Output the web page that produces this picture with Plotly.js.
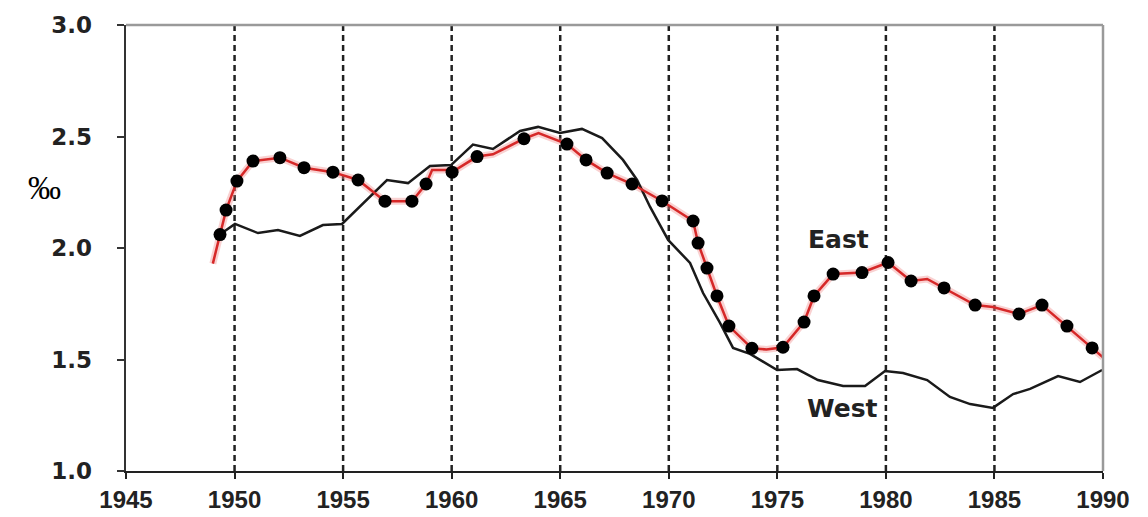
<!DOCTYPE html>
<html>
<head>
<meta charset="utf-8">
<script src="https://cdn.plot.ly/plotly-3.0.1.min.js"></script>
<style>
  html, body { margin: 0; padding: 0; background: #fff; }
  #chart { width: 1148px; height: 517px; }
</style>
</head>
<body>
<div id="chart"></div>
<script>
// ---- data ----
var xTickValues = [1945, 1950, 1955, 1960, 1965, 1970, 1975, 1980, 1985, 1990];
var xTickLabels = ["1945", "1950", "1955", "1960", "1965", "1970", "1975", "1980", "1985", "1990"];
var yTickValues = [1.0, 1.5, 2.0, 2.5, 3.0];
var yTickLabels = ["1.0", "1.5", "2.0", "2.5", "3.0"];
var markerYears = [1950, 1955, 1960, 1965, 1970, 1975, 1980, 1985];

// East: line vertices
var eastYears = [1949.0, 1949.33, 1949.61, 1950.11, 1950.85, 1952.09, 1953.2, 1954.53, 1955.69, 1956.93,
  1958.17, 1958.82, 1959.1, 1959.8, 1960.02, 1961.17, 1961.9, 1963.33, 1964.0, 1965.31, 1966.19,
  1967.16, 1968.31, 1969.69, 1971.12, 1971.35, 1971.76, 1972.22, 1972.77, 1973.83, 1974.5,
  1975.26, 1976.23, 1976.69, 1977.57, 1978.9, 1980.1, 1981.16, 1981.9, 1982.68, 1984.11,
  1984.93, 1986.13, 1987.19, 1988.34, 1989.5, 1990.0];
var eastValues = [1.93, 2.06, 2.17, 2.30, 2.39, 2.405, 2.36, 2.34, 2.305, 2.21,
  2.21, 2.287, 2.35, 2.35, 2.34, 2.41, 2.42, 2.49, 2.515, 2.466, 2.395,
  2.336, 2.287, 2.211, 2.121, 2.022, 1.91, 1.785, 1.65, 1.55, 1.545,
  1.555, 1.668, 1.785, 1.883, 1.89, 1.935, 1.852, 1.861, 1.821, 1.744,
  1.735, 1.704, 1.744, 1.65, 1.552, 1.51];

// East: points marked with black dots
var eastDotYears = [1949.33, 1949.61, 1950.11, 1950.85, 1952.09, 1953.2, 1954.53, 1955.69, 1956.93,
  1958.17, 1958.82, 1960.02, 1961.17, 1963.33, 1965.31, 1966.19, 1967.16, 1968.31, 1969.69,
  1971.12, 1971.35, 1971.76, 1972.22, 1972.77, 1973.83, 1975.26, 1976.23, 1976.69, 1977.57,
  1978.9, 1980.1, 1981.16, 1982.68, 1984.11, 1986.13, 1987.19, 1988.34, 1989.5];
var eastDotValues = [2.06, 2.17, 2.30, 2.39, 2.405, 2.36, 2.34, 2.305, 2.21,
  2.21, 2.287, 2.34, 2.41, 2.49, 2.466, 2.395, 2.336, 2.287, 2.211,
  2.121, 2.022, 1.91, 1.785, 1.65, 1.55, 1.555, 1.668, 1.785, 1.883,
  1.89, 1.935, 1.852, 1.821, 1.744, 1.704, 1.744, 1.65, 1.552];

// West
var westYears = [1949.42, 1950.02, 1951.08, 1952.0, 1953.01, 1954.07, 1954.95, 1957.02, 1957.99,
  1959.0, 1959.97, 1960.98, 1961.9, 1963.15, 1963.98, 1964.99, 1966.0, 1966.93, 1967.89,
  1968.54, 1969.14, 1969.97, 1970.98, 1971.58, 1972.36, 1972.96, 1973.74, 1974.99, 1975.91,
  1976.87, 1978.03, 1979.04, 1979.96, 1980.79, 1981.9, 1982.95, 1983.88, 1984.93, 1985.86,
  1986.64, 1987.93, 1988.94, 1989.96];
var westValues = [2.067, 2.108, 2.067, 2.081, 2.054, 2.103, 2.108, 2.305, 2.291,
  2.368, 2.372, 2.464, 2.444, 2.525, 2.543, 2.516, 2.534, 2.493, 2.395,
  2.305, 2.184, 2.036, 1.933, 1.798, 1.664, 1.552, 1.525, 1.453, 1.457,
  1.408, 1.381, 1.381, 1.448, 1.439, 1.408, 1.332, 1.300, 1.283, 1.345,
  1.368, 1.426, 1.399, 1.453];

var seriesLabels = {east: "East", west: "West", unit: "‰"};

// ---- traces ----
var traces = [
  { x: eastYears, y: eastValues, mode: "lines", hoverinfo: "skip",
    line: { color: "rgba(240,140,140,0.4)", width: 7 } },
  { x: westYears, y: westValues, mode: "lines", name: seriesLabels.west,
    line: { color: "#1a1a1a", width: 2.5 } },
  { x: eastYears, y: eastValues, mode: "lines", name: seriesLabels.east,
    line: { color: "#d62828", width: 2.5 } },
  { x: eastDotYears, y: eastDotValues, mode: "markers", name: seriesLabels.east,
    marker: { color: "#000", size: 13 } }
];

var shapes = markerYears.map(function (yr) {
  return { type: "line", xref: "x", yref: "paper", x0: yr, x1: yr, y0: 0, y1: 1,
    layer: "below", line: { color: "#222", width: 2.5, dash: "6px,4px" } };
});
shapes.push({ type: "line", xref: "paper", yref: "paper", x0: 0, x1: 1, y0: 1, y1: 1,
  line: { color: "#9a9a9a", width: 2.5 } });
shapes.push({ type: "line", xref: "paper", yref: "paper", x0: 1, x1: 1, y0: 0, y1: 1,
  line: { color: "#9a9a9a", width: 2.5 } });

var layout = {
  width: 1148, height: 517,
  margin: { l: 126, r: 45, t: 25, b: 46, pad: 0 },
  paper_bgcolor: "#fff", plot_bgcolor: "#fff",
  showlegend: false,
  xaxis: {
    range: [1945, 1990], tickvals: xTickValues, ticktext: xTickLabels,
    showgrid: false, zeroline: false, showline: true, linecolor: "#222", linewidth: 2,
    ticks: "outside", ticklen: 6, tickwidth: 2, tickcolor: "#222",
    tickfont: { family: "Liberation Sans", size: 24, color: "#222", weight: "bold" },
    ticklabelstandoff: 0
  },
  yaxis: {
    range: [1.0, 3.0], tickvals: yTickValues, ticktext: yTickLabels,
    showgrid: false, zeroline: false, showline: true, linecolor: "#333", linewidth: 2.5,
    ticks: "outside", ticklen: 7, tickwidth: 2, tickcolor: "#333",
    tickfont: { family: "DejaVu Sans", size: 23, color: "#222", weight: "bold" },
    ticklabelstandoff: 20
  },
  shapes: shapes,
  annotations: [
    { xref: "x", yref: "y", x: 1977.8, y: 2.04, text: seriesLabels.east, showarrow: false,
      font: { family: "DejaVu Sans", size: 25, color: "#222", weight: "bold" } },
    { xref: "x", yref: "y", x: 1978.0, y: 1.28, text: seriesLabels.west, showarrow: false,
      font: { family: "DejaVu Sans", size: 25, color: "#222", weight: "bold" } },
    { xref: "paper", yref: "paper", x: -0.102, y: 0.634, text: seriesLabels.unit, showarrow: false,
      font: { family: "Liberation Serif", size: 33, color: "#000" } }
  ]
};

Plotly.newPlot("chart", traces, layout, { displayModeBar: false, staticPlot: true });
</script>
</body>
</html>
